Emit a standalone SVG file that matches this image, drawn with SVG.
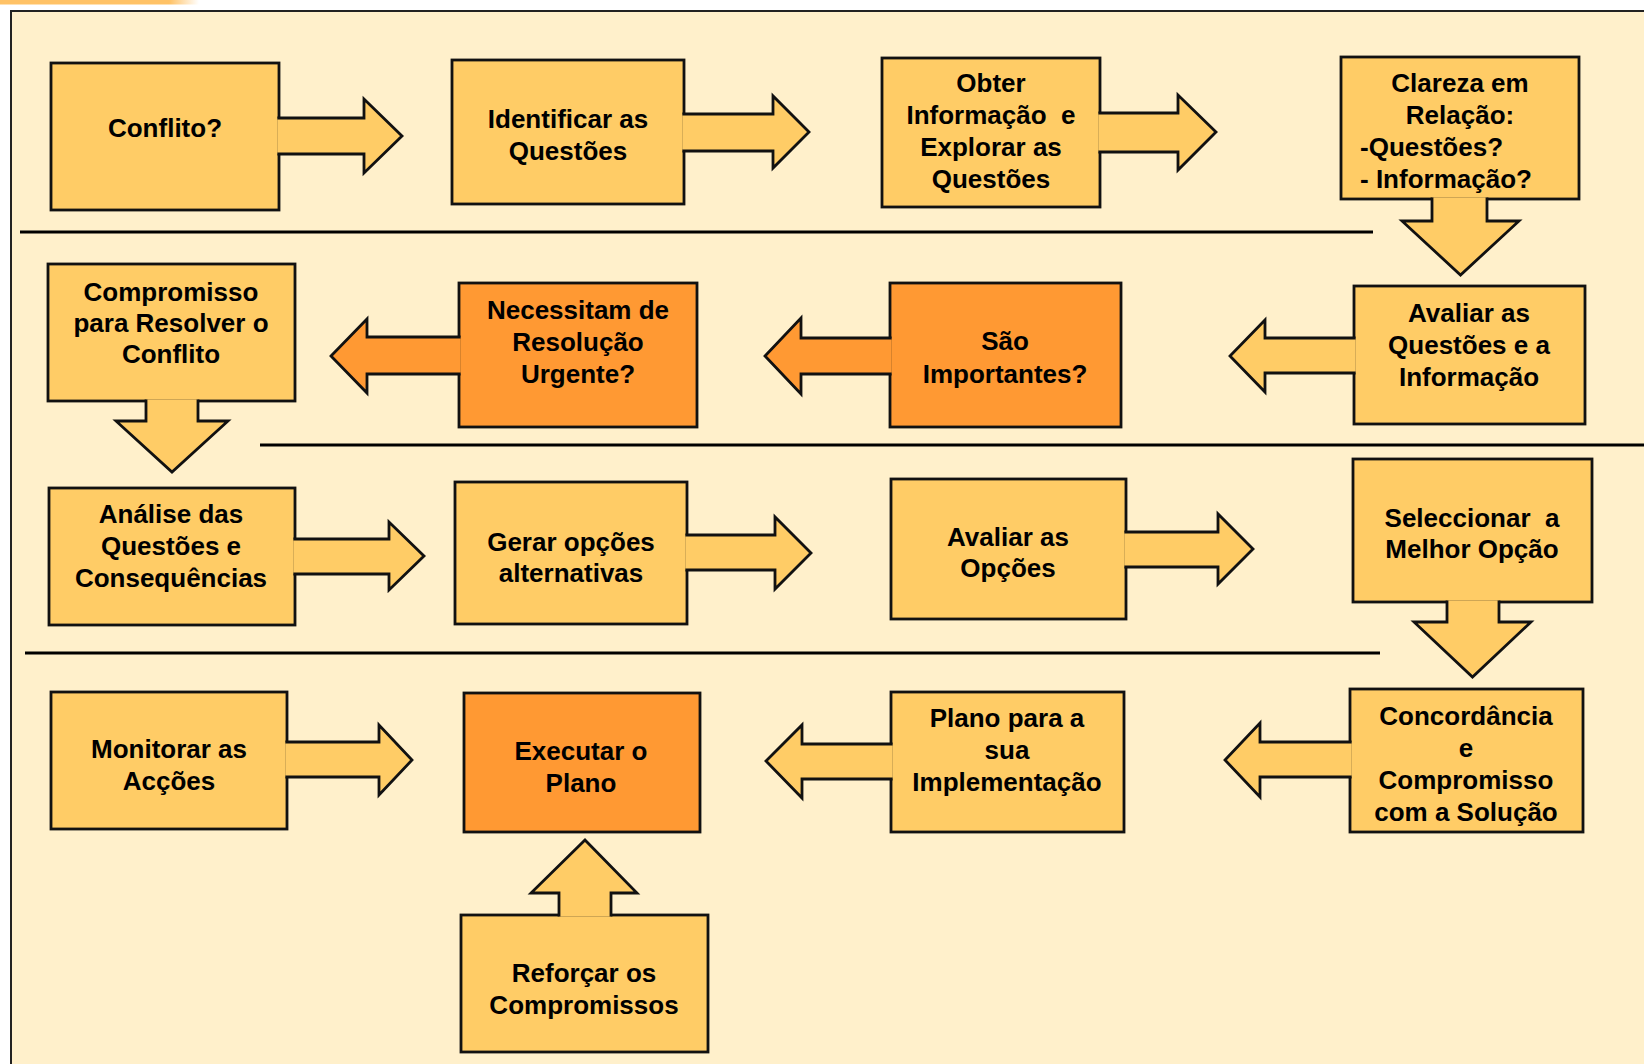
<svg xmlns="http://www.w3.org/2000/svg" width="1644" height="1064" viewBox="0 0 1644 1064">
  <defs>
    <linearGradient id="strip" x1="0" x2="1" y1="0" y2="0">
      <stop offset="0" stop-color="#FFC266"/>
      <stop offset="0.85" stop-color="#FFC266"/>
      <stop offset="1" stop-color="#FFC266" stop-opacity="0"/>
    </linearGradient>
    <style>
      .box{fill:#FFCC66;stroke:#111;stroke-width:2.8;stroke-linejoin:miter}
      .box.hot{fill:#FF9933}
      .arr{fill:#FFCC66;stroke:#111;stroke-width:2.8;stroke-linejoin:miter;stroke-miterlimit:10;stroke-linecap:butt}
      .arr.hot{fill:#FF9933}
      .sep{stroke:#000;stroke-width:3}
      text{font-family:"Liberation Sans",Arial,Helvetica,sans-serif;font-weight:bold;font-size:26px;fill:#000;text-anchor:middle;white-space:pre}
      .left{text-anchor:start}
    </style>
  </defs>

  <!-- page and framed panel -->
  <rect x="0" y="0" width="1644" height="1064" fill="#FFFFFF"/>
  <rect x="0" y="0" width="199" height="4.5" fill="url(#strip)"/>
  <rect x="11" y="11" width="1650" height="1070" fill="#FFF0CB" stroke="#222" stroke-width="2"/>

  <!-- row separators -->
  <g id="separators">
    <line class="sep" x1="20" y1="232" x2="1373" y2="232"/>
    <line class="sep" x1="260" y1="445" x2="1644" y2="445"/>
    <line class="sep" x1="25" y1="653" x2="1380" y2="653"/>
  </g>

  <!-- process steps -->
  <g id="nodes">
    <g id="conflito">
      <rect class="box" x="51" y="63" width="228" height="147"/>
      <text x="165" y="137">Conflito?</text>
    </g>
    <g id="identificar">
      <rect class="box" x="452" y="60" width="232" height="144"/>
      <text x="568" y="128">Identificar as</text>
      <text x="568" y="160">Questões</text>
    </g>
    <g id="obter">
      <rect class="box" x="882" y="58" width="218" height="149"/>
      <text x="991" y="92">Obter</text>
      <text x="991" y="124">Informação  e</text>
      <text x="991" y="156">Explorar as</text>
      <text x="991" y="188">Questões</text>
    </g>
    <g id="clareza">
      <rect class="box" x="1341" y="57" width="238" height="142"/>
      <text x="1460" y="92">Clareza em</text>
      <text x="1460" y="124">Relação:</text>
      <text class="left" x="1360" y="156">-Questões?</text>
      <text class="left" x="1360" y="188">- Informação?</text>
    </g>
    <g id="avaliar-questoes">
      <rect class="box" x="1354" y="286" width="231" height="138"/>
      <text x="1469" y="322">Avaliar as</text>
      <text x="1469" y="354">Questões e a</text>
      <text x="1469" y="386">Informação</text>
    </g>
    <g id="sao-importantes">
      <rect class="box hot" x="890" y="283" width="231" height="144"/>
      <text x="1005" y="350">São</text>
      <text x="1005" y="383">Importantes?</text>
    </g>
    <g id="necessitam">
      <rect class="box hot" x="459" y="283" width="238" height="144"/>
      <text x="578" y="319">Necessitam de</text>
      <text x="578" y="351">Resolução</text>
      <text x="578" y="383">Urgente?</text>
    </g>
    <g id="compromisso-resolver">
      <rect class="box" x="48" y="264" width="247" height="137"/>
      <text x="171" y="301">Compromisso</text>
      <text x="171" y="332">para Resolver o</text>
      <text x="171" y="363">Conflito</text>
    </g>
    <g id="analise">
      <rect class="box" x="49" y="488" width="246" height="137"/>
      <text x="171" y="523">Análise das</text>
      <text x="171" y="555">Questões e</text>
      <text x="171" y="587">Consequências</text>
    </g>
    <g id="gerar">
      <rect class="box" x="455" y="482" width="232" height="142"/>
      <text x="571" y="551">Gerar opções</text>
      <text x="571" y="582">alternativas</text>
    </g>
    <g id="avaliar-opcoes">
      <rect class="box" x="891" y="479" width="235" height="140"/>
      <text x="1008" y="546">Avaliar as</text>
      <text x="1008" y="577">Opções</text>
    </g>
    <g id="seleccionar">
      <rect class="box" x="1353" y="459" width="239" height="143"/>
      <text x="1472" y="527">Seleccionar  a</text>
      <text x="1472" y="558">Melhor Opção</text>
    </g>
    <g id="concordancia">
      <rect class="box" x="1350" y="689" width="233" height="143"/>
      <text x="1466" y="725">Concordância</text>
      <text x="1466" y="757">e</text>
      <text x="1466" y="789">Compromisso</text>
      <text x="1466" y="821">com a Solução</text>
    </g>
    <g id="plano">
      <rect class="box" x="891" y="692" width="233" height="140"/>
      <text x="1007" y="727">Plano para a</text>
      <text x="1007" y="759">sua</text>
      <text x="1007" y="791">Implementação</text>
    </g>
    <g id="executar">
      <rect class="box hot" x="464" y="693" width="236" height="139"/>
      <text x="581" y="760">Executar o</text>
      <text x="581" y="792">Plano</text>
    </g>
    <g id="monitorar">
      <rect class="box" x="51" y="692" width="236" height="137"/>
      <text x="169" y="758">Monitorar as</text>
      <text x="169" y="790">Acções</text>
    </g>
    <g id="reforcar">
      <rect class="box" x="461" y="915" width="247" height="137"/>
      <text x="584" y="982">Reforçar os</text>
      <text x="584" y="1014">Compromissos</text>
    </g>
  </g>

  <!-- block arrows; each open end sits on its box edge and hides that stretch of border -->
  <g id="connectors">
    <path class="arr" d="M277.4 118 H364 V99 L402 136 L364 173 V154 H277.4"/>
    <path class="arr" d="M682.4 114 H773 V96 L809 132 L773 168 V151 H682.4"/>
    <path class="arr" d="M1098.4 113 H1178 V95 L1216 132 L1178 170 V152 H1098.4"/>
    <path class="arr" d="M1432 197.4 V221 H1402 L1460.5 275 L1519 221 H1487 V197.4"/>
    <path class="arr" d="M1355.6 338 H1265 V320 L1230 356 L1265 392 V373 H1355.6"/>
    <path class="arr hot" d="M891.6 338 H801 V318 L765 356 L801 394 V374 H891.6"/>
    <path class="arr hot" d="M460.6 337 H367 V319 L331 356 L367 393 V374 H460.6"/>
    <path class="arr" d="M146 399.4 V421 H116 L172 472 L228 421 H198 V399.4"/>
    <path class="arr" d="M293.4 539 H389 V522 L424 556 L389 590 V574 H293.4"/>
    <path class="arr" d="M685.4 535 H775 V517 L811 553 L775 589 V570 H685.4"/>
    <path class="arr" d="M1124.4 532 H1218 V514 L1253 549 L1218 584 V567 H1124.4"/>
    <path class="arr" d="M1447 600.4 V622 H1414 L1472.5 677 L1531 622 H1499 V600.4"/>
    <path class="arr" d="M1351.6 742 H1260 V723 L1225 760 L1260 797 V777 H1351.6"/>
    <path class="arr" d="M892.6 744 H802 V725 L766 761 L802 798 V779 H892.6"/>
    <path class="arr" d="M285.4 742 H379 V725 L412 760 L379 795 V777 H285.4"/>
    <path class="arr" d="M559 916.6 V893 H531 L585 840 L637 893 H611 V916.6"/>
  </g>
</svg>
